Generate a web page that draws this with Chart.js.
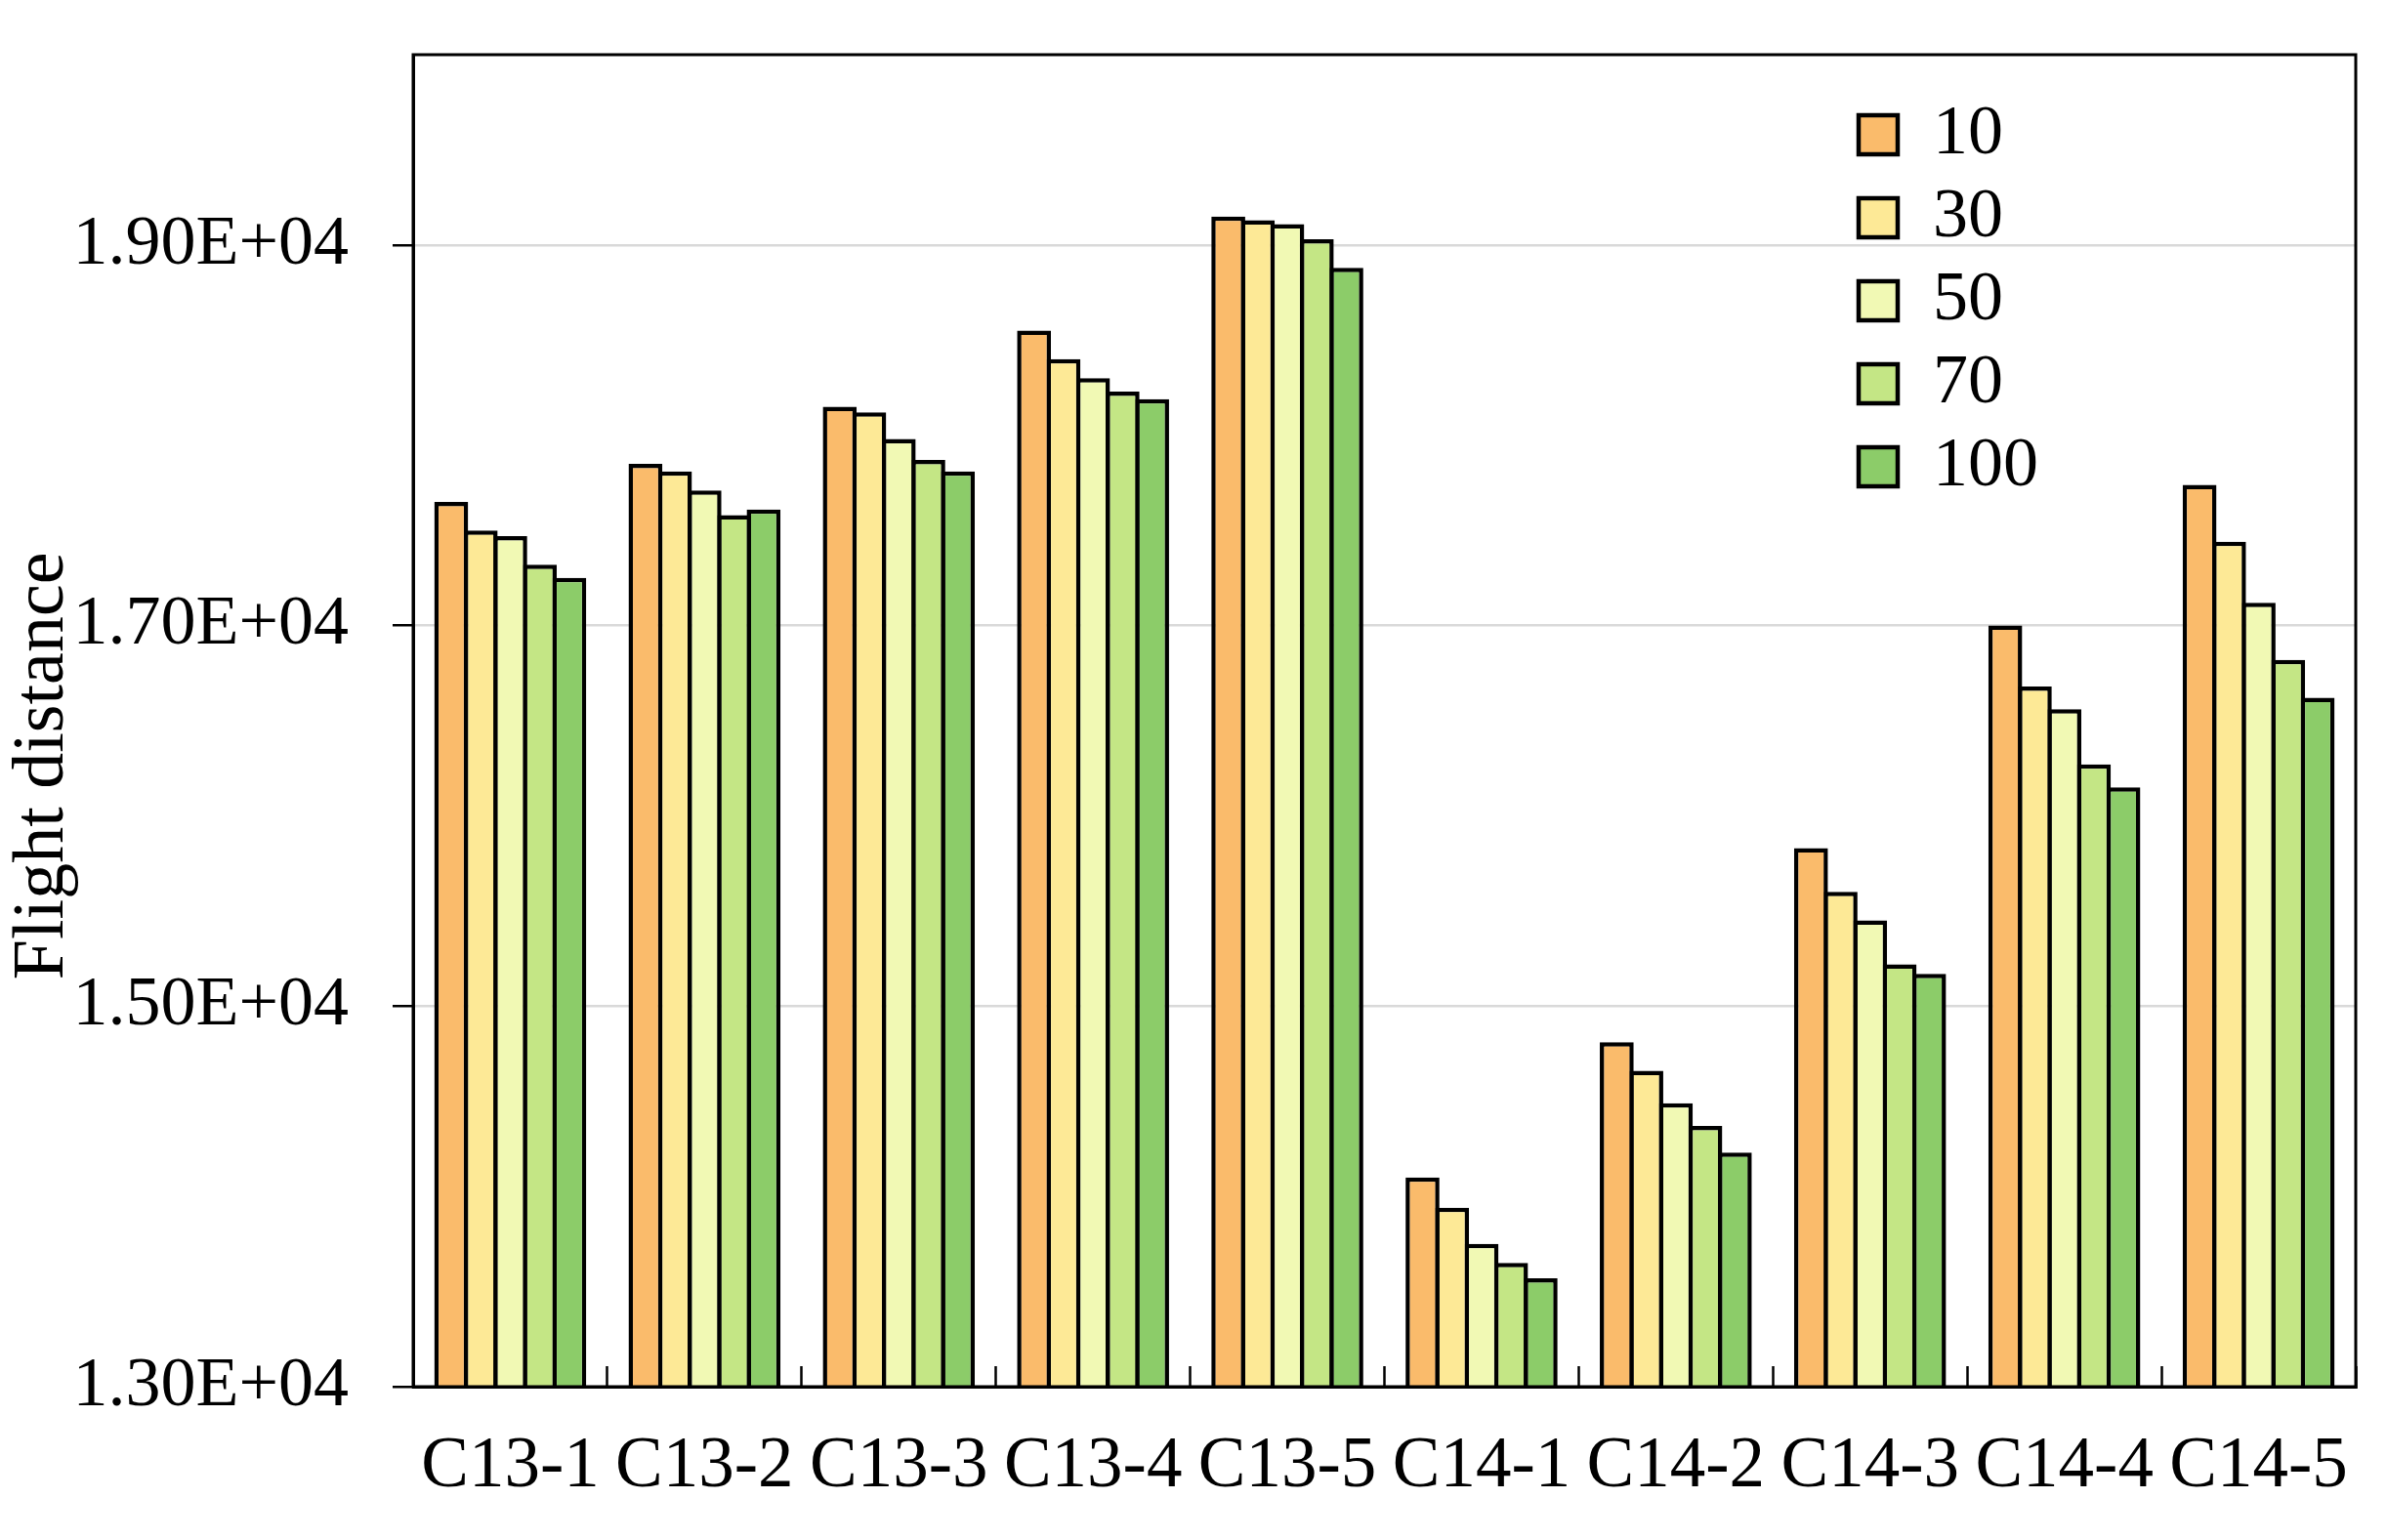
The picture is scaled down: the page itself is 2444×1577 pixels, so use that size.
<!DOCTYPE html>
<html>
<head>
<meta charset="utf-8">
<script src="https://cdn.jsdelivr.net/npm/chart.js@4.4.1/dist/chart.umd.min.js"></script>
<style>
  html, body { margin: 0; padding: 0; background: #fff; }
  #wrap { width: 2444px; height: 1577px; position: relative; }
</style>
</head>
<body>
<div id="wrap"><canvas id="grafica"></canvas></div>
<script>
const categorias = ['C13-1', 'C13-2', 'C13-3', 'C13-4', 'C13-5', 'C14-1', 'C14-2', 'C14-3', 'C14-4', 'C14-5'];
const serie10  = [17650, 17850, 18150, 18550, 19150, 14100, 14810, 15830, 17000, 17740];
const serie30  = [17500, 17810, 18120, 18400, 19130, 13940, 14660, 15600, 16680, 17440];
const serie50  = [17470, 17710, 17980, 18300, 19110, 13750, 14490, 15450, 16560, 17120];
const serie70  = [17320, 17580, 17870, 18230, 19030, 13650, 14370, 15220, 16270, 16820];
const serie100 = [17250, 17610, 17810, 18190, 18880, 13570, 14230, 15170, 16150, 16620];
const ticksY = [13000, 15000, 17000, 19000];

const fuente = 'Liberation Serif';
const colores = ['#FABB6B', '#FDE996', '#F1F9B4', '#C4E685', '#8CCC69'];

function notacion(v) {
  const e = Math.floor(Math.log10(v));
  const m = (v / Math.pow(10, e)).toFixed(2);
  return m + 'E+' + String(e).padStart(2, '0');
}

function serie(label, data, i) {
  return {
    label: label,
    data: data,
    backgroundColor: colores[i],
    borderColor: '#000',
    borderWidth: 4.5,
    borderSkipped: false,
    categoryPercentage: 0.76,
    barPercentage: 1.148 // las barras se solapan lo que mide el borde
  };
}

// marco negro alrededor del area de la grafica
const marco = {
  id: 'marco',
  afterDatasetsDraw(chart) {
    const a = chart.chartArea;
    const ctx = chart.ctx;
    ctx.save();
    ctx.strokeStyle = '#000';
    ctx.lineWidth = 3;
    ctx.strokeRect(a.left, a.top, a.right - a.left, a.bottom - a.top);
    ctx.restore();
  }
};

// mover la leyenda a la esquina superior derecha
const leyendaPos = {
  id: 'leyendaPos',
  afterLayout(chart) {
    const lg = chart.legend;
    if (!lg) return;
    lg.left = 1890;
    lg.top = 89;
  }
};

const ctx = document.getElementById('grafica').getContext('2d');
new Chart(ctx, {
  type: 'bar',
  data: {
    labels: categorias,
    datasets: [
      serie('10', serie10, 0),
      serie('30', serie30, 1),
      serie('50', serie50, 2),
      serie('70', serie70, 3),
      serie('100', serie100, 4)
    ]
  },
  options: {
    responsive: true,
    maintainAspectRatio: false,
    animation: false,
    devicePixelRatio: 1,
    layout: { padding: { top: 56, right: 32, left: 0, bottom: 0 } },
    plugins: {
      legend: {
        position: 'chartArea',
        align: 'start',
        labels: {
          color: '#000',
          font: { family: fuente, size: 72 },
          boxWidth: 40,
          boxHeight: 40,
          padding: 13
        }
      },
      tooltip: { enabled: false }
    },
    scales: {
      x: {
        afterFit(s) { s.height = 157; s.paddingLeft = 0; s.paddingRight = 0; },
        grid: {
          offset: true,
          drawOnChartArea: false,
          drawTicks: true,
          tickLength: -21,
          tickColor: '#000',
          tickWidth: 2.5
        },
        border: { display: true, color: '#000', width: 3 },
        ticks: {
          color: '#000',
          font: { family: fuente, size: 73 },
          padding: 60,
          maxRotation: 0,
          autoSkip: false
        }
      },
      y: {
        min: 13000,
        max: 20000,
        afterFit(s) { s.width = 423; s.paddingTop = 0; s.paddingBottom = 0; },
        afterBuildTicks(s) { s.ticks = ticksY.map(v => ({ value: v })); },
        grid: {
          color: (c) => (c.tick && c.tick.value === 13000) ? 'rgba(0,0,0,0)' : '#D9D9D9',
          lineWidth: 2.5,
          drawTicks: true,
          tickLength: 21,
          tickColor: '#000',
          tickWidth: 2.5
        },
        border: { display: true, color: '#000', width: 3 },
        ticks: {
          color: '#000',
          font: { family: fuente, size: 72 },
          padding: 45,
          callback: (v) => notacion(v)
        },
        title: {
          display: true,
          text: 'Flight distance     ',
          color: '#000',
          font: { family: fuente, size: 74 },
          padding: 0
        }
      }
    }
  },
  plugins: [marco, leyendaPos]
});
</script>
</body>
</html>
